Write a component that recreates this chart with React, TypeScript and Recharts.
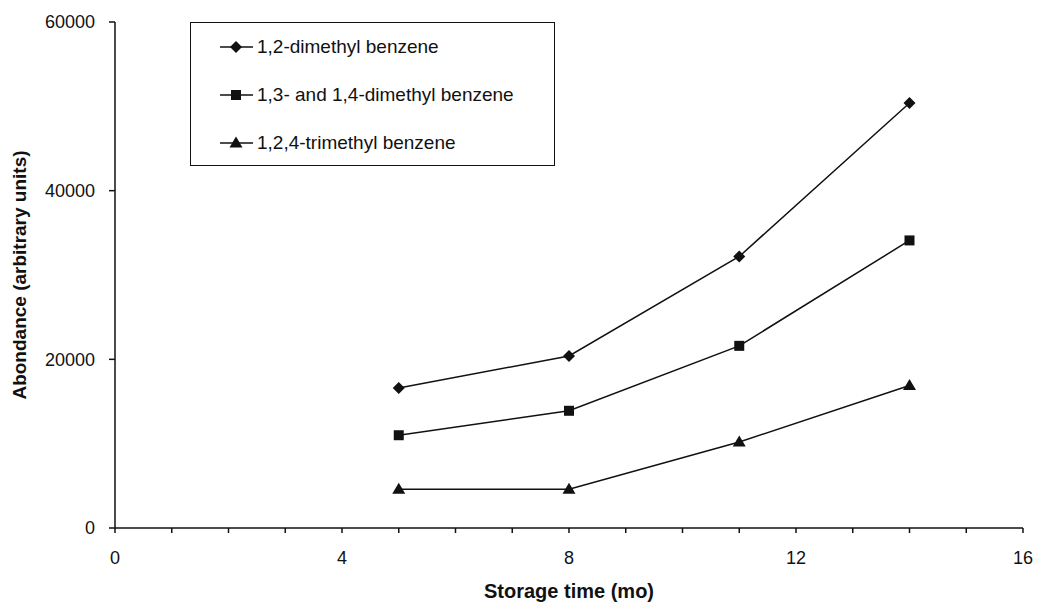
import { LineChart, Line, XAxis, YAxis, Label } from 'recharts';

// storage time (months) at which samples were measured
const months = [5, 8, 11, 14];

// abundance (arbitrary units)
const dimethyl12 = [16600, 20400, 32200, 50400];
const dimethyl1314 = [11000, 13900, 21600, 34100];
const trimethyl124 = [4600, 4600, 10200, 16900];

const seriesNames = [
  '1,2-dimethyl benzene',
  '1,3- and 1,4-dimethyl benzene',
  '1,2,4-trimethyl benzene',
];

const xTicks = [0, 1, 2, 3, 4, 5, 6, 7, 8, 9, 10, 11, 12, 13, 14, 15, 16];
const xLabels = [0, 4, 8, 12, 16];
const yTicks = [0, 20000, 40000, 60000];

const data = months.map((m, i) => ({
  month: m,
  a: dimethyl12[i],
  b: dimethyl1314[i],
  c: trimethyl124[i],
}));

const FONT = '"Liberation Sans", Arial, Helvetica, sans-serif';
const INK = '#111';

type Shape = 'diamond' | 'square' | 'triangle';

function marker(shape: Shape, cx: number, cy: number, key?: string | number) {
  if (shape === 'diamond') {
    const r = 6;
    return (
      <path
        key={key}
        d={`M${cx},${cy - r}L${cx + r},${cy}L${cx},${cy + r}L${cx - r},${cy}Z`}
        fill={INK}
      />
    );
  }
  if (shape === 'square') {
    const r = 5;
    return <rect key={key} x={cx - r} y={cy - r} width={r * 2} height={r * 2} fill={INK} />;
  }
  const r = 6.5;
  return (
    <path
      key={key}
      d={`M${cx},${cy - r}L${cx + r},${cy + r * 0.7}L${cx - r},${cy + r * 0.7}Z`}
      fill={INK}
    />
  );
}

const shapes: Shape[] = ['diamond', 'square', 'triangle'];

function makeDot(shape: Shape) {
  return (props: any) => {
    const { cx, cy, index } = props;
    if (cx == null || cy == null) return <g key={index} />;
    return marker(shape, cx, cy, index);
  };
}

function XTick(props: any) {
  const { x, y, payload } = props;
  if (!xLabels.includes(payload.value)) return <g />;
  return (
    <text x={x} y={y} dy="0.71em" textAnchor="middle" fontSize={18} fill={INK} fontFamily={FONT}>
      {payload.value}
    </text>
  );
}

function YTitle(props: any) {
  const { viewBox } = props;
  const x = 19;
  const y = viewBox.y + viewBox.height / 2;
  return (
    <text
      x={x}
      y={y}
      transform={`rotate(-90, ${x}, ${y})`}
      textAnchor="middle"
      dominantBaseline="central"
      fontSize={19}
      fontWeight="bold"
      fill={INK}
      fontFamily={FONT}
    >
      Abondance (arbitrary units)
    </text>
  );
}

function LegendBox() {
  return (
    <div
      style={{
        position: 'absolute',
        left: 190,
        top: 22,
        border: `1px solid ${INK}`,
        width: 365,
        height: 144,
        background: '#fff',
        boxSizing: 'border-box',
        paddingTop: 0,
      }}
    >
      {seriesNames.map((name, i) => (
        <div key={name} style={{ display: 'flex', alignItems: 'center', height: 48, marginTop: i === 0 ? 0 : 0 }}>
          <svg width={66} height={20} style={{ flex: 'none' }}>
            <line x1={29} y1={10} x2={62} y2={10} stroke={INK} strokeWidth={1.5} />
            {marker(shapes[i], 45, 10)}
          </svg>
          <span style={{ fontSize: 19, color: INK, fontFamily: FONT, whiteSpace: 'nowrap' }}>{name}</span>
        </div>
      ))}
    </div>
  );
}

export default function App() {
  return (
    <div style={{ position: 'relative', width: 1037, height: 604, background: '#fff', fontFamily: FONT }}>
      <style>{'body{margin:0}'}</style>
      <LineChart width={1037} height={604} data={data} margin={{ top: 22, right: 14, left: 0, bottom: 0 }}>
        <XAxis
          dataKey="month"
          type="number"
          domain={[0, 16]}
          ticks={xTicks}
          interval={0}
          height={76}
          stroke={INK}
          strokeWidth={1.5}
          tickSize={5}
          tickMargin={18}
          tick={<XTick />}
        >
          <Label value="Storage time (mo)" position="insideBottom" offset={6} fontSize={20} fontWeight="bold" fill={INK} />
        </XAxis>
        <YAxis
          domain={[0, 60000]}
          ticks={yTicks}
          width={115}
          stroke={INK}
          strokeWidth={1.5}
          tickSize={6}
          tickMargin={14}
          tick={{ fontSize: 18, fill: INK, fontFamily: FONT }}
        >
          <Label content={<YTitle />} />
        </YAxis>
        <Line dataKey="a" name={seriesNames[0]} stroke={INK} strokeWidth={1.5} dot={makeDot('diamond')} isAnimationActive={false} />
        <Line dataKey="b" name={seriesNames[1]} stroke={INK} strokeWidth={1.5} dot={makeDot('square')} isAnimationActive={false} />
        <Line dataKey="c" name={seriesNames[2]} stroke={INK} strokeWidth={1.5} dot={makeDot('triangle')} isAnimationActive={false} />
      </LineChart>
      <LegendBox />
    </div>
  );
}
